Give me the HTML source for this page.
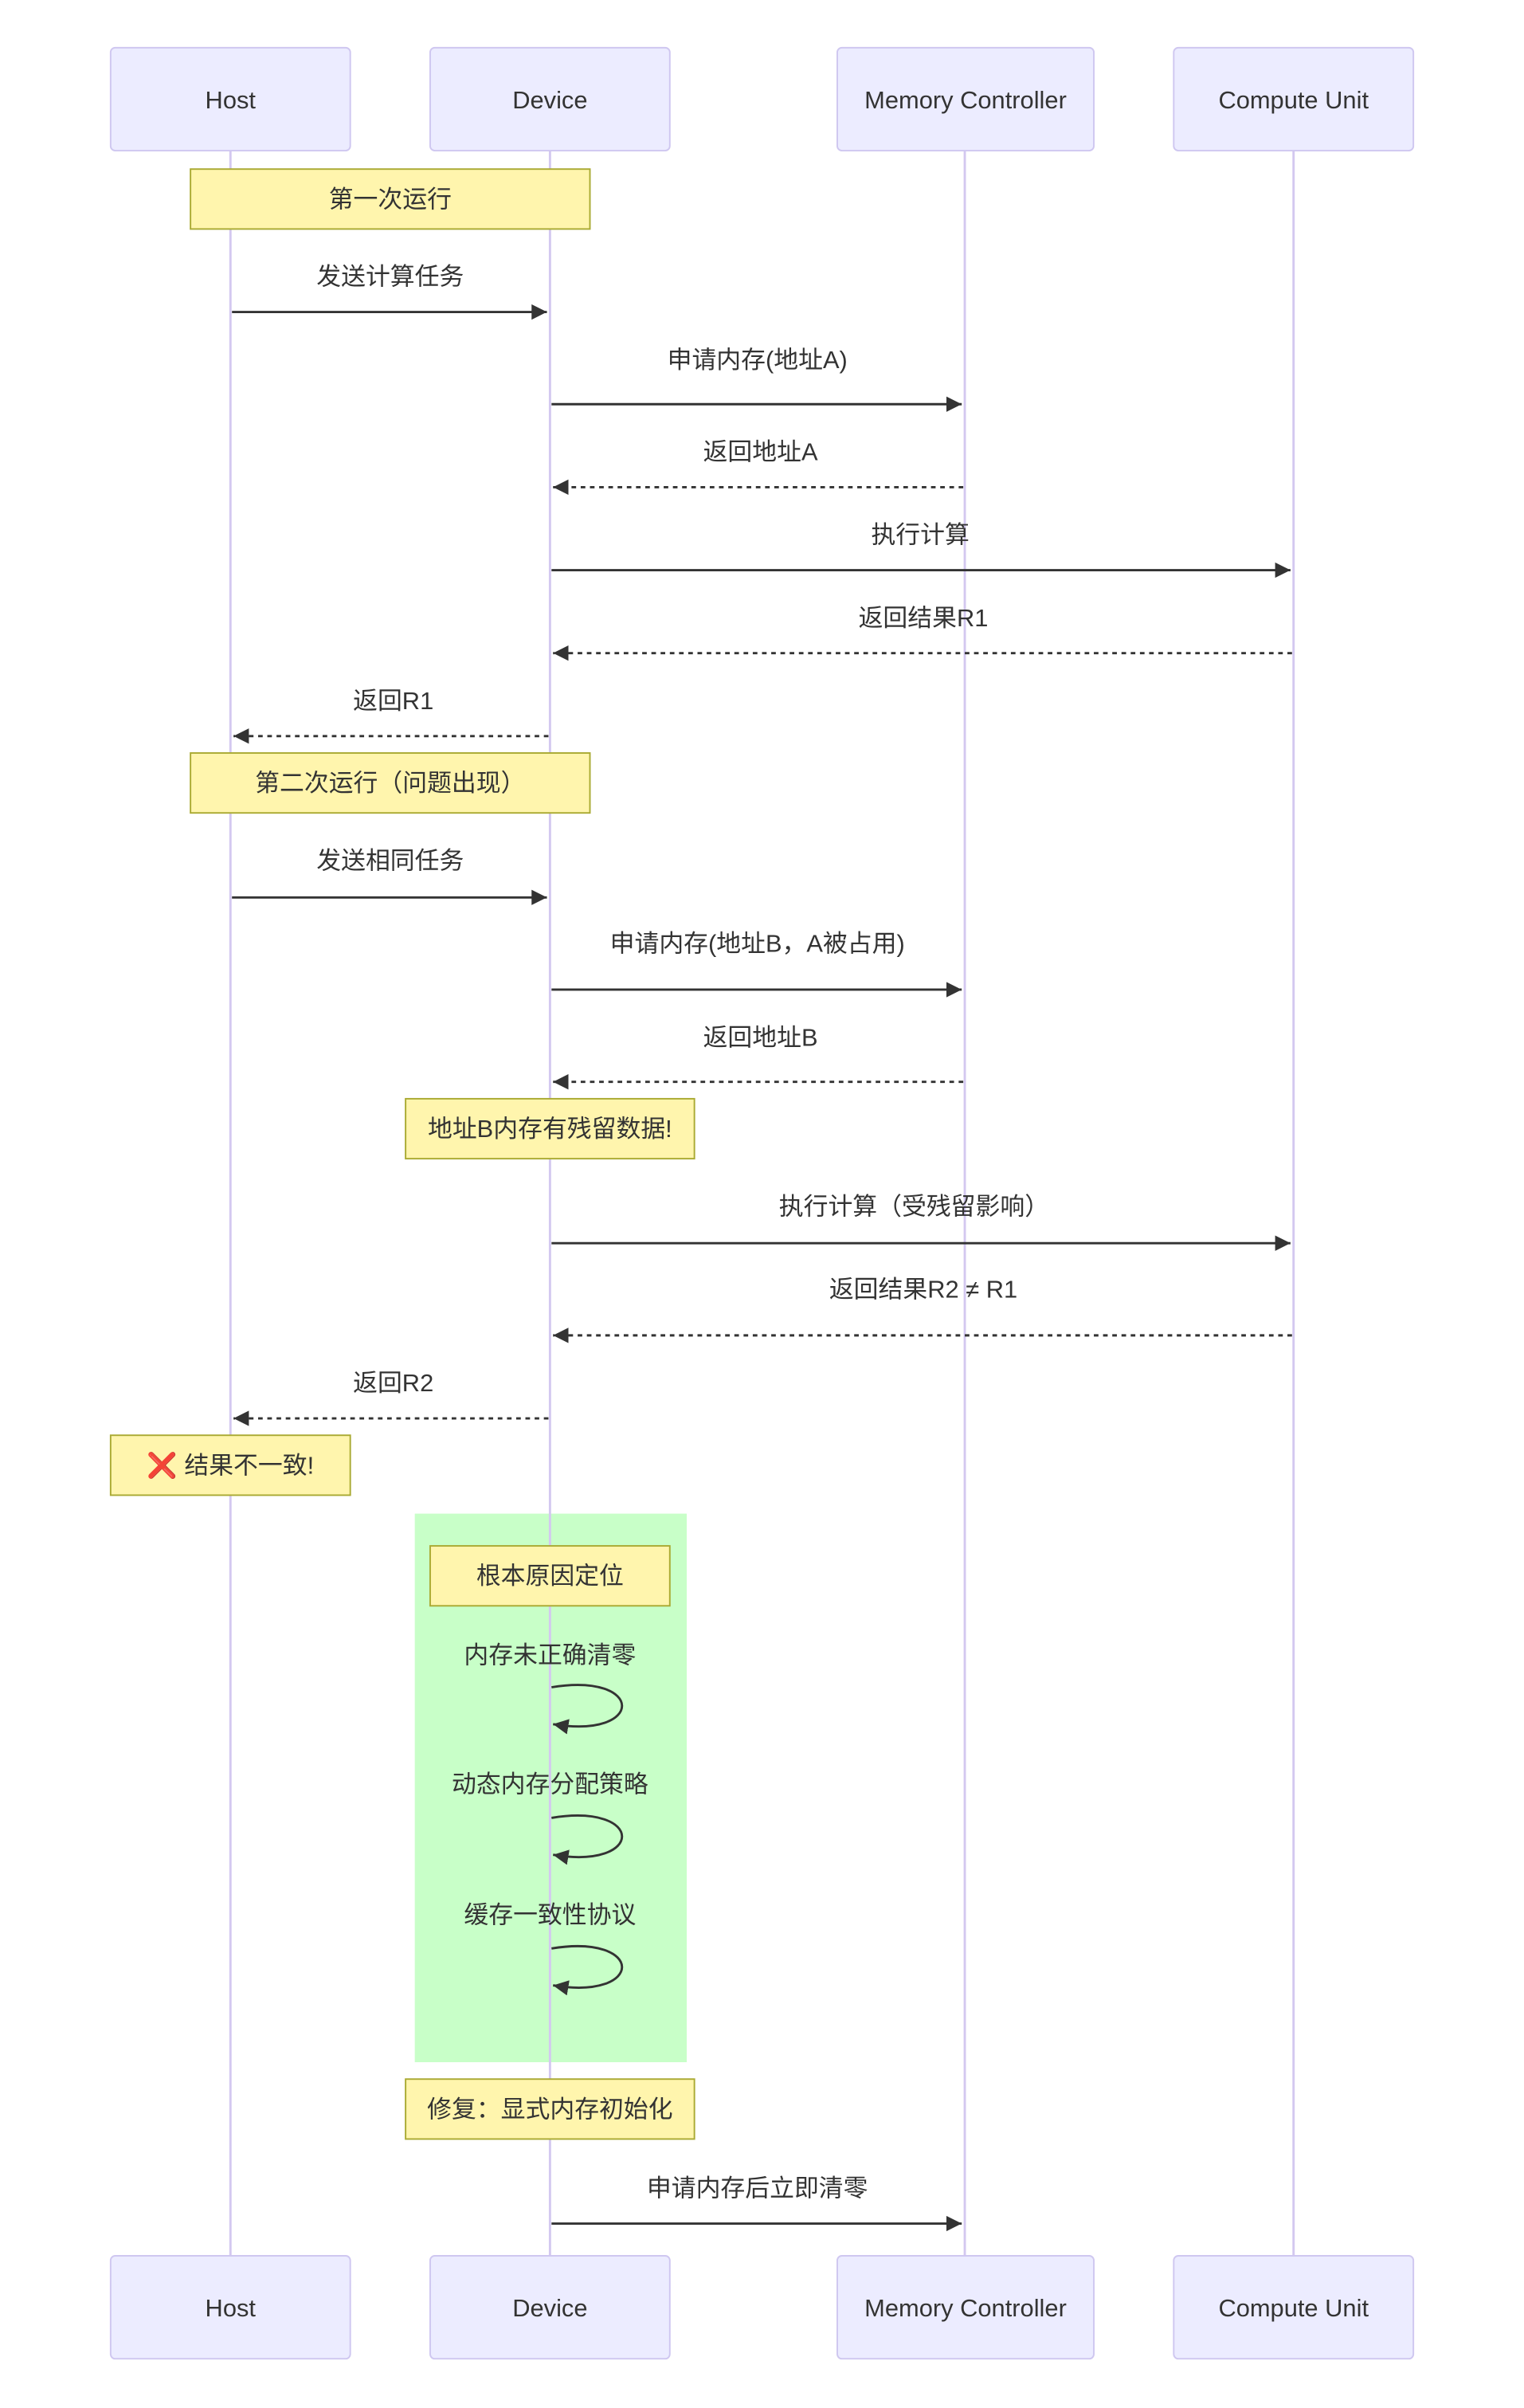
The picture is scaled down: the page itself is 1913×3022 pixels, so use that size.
<!DOCTYPE html>
<html><head><meta charset="utf-8"><style>
html,body{margin:0;padding:0;background:#fff;}
svg{display:block;}
text{font-family:"Liberation Sans","Noto Sans CJK SC",sans-serif;fill:#333;font-size:16px;}
</style></head><body>
<svg width="1913" height="3022" viewBox="0 0 992 1567" xmlns="http://www.w3.org/2000/svg">
<defs>
<marker id="ah" markerWidth="12" markerHeight="12" refX="10" refY="5" orient="auto" markerUnits="userSpaceOnUse"><path d="M0,0 L10,5 L0,10 z" fill="#333"/></marker>
</defs>
<rect width="992" height="1567" fill="#fff"/>
<!-- green rect -->
<rect x="270" y="985" width="177" height="357" fill="rgb(200,255,200)"/>
<!-- lifelines -->
<g stroke="#d3c8f0" stroke-width="1.5">
<line x1="150" y1="98" x2="150" y2="1468"/>
<line x1="358" y1="98" x2="358" y2="1468"/>
<line x1="628" y1="98" x2="628" y2="1468"/>
<line x1="842" y1="98" x2="842" y2="1468"/>
</g>
<!-- actors -->
<g fill="#ececff" stroke="#cfc7f0" stroke-width="1">
<rect x="72" y="31" width="156" height="67" rx="3"/>
<rect x="280" y="31" width="156" height="67" rx="3"/>
<rect x="545" y="31" width="167" height="67" rx="3"/>
<rect x="764" y="31" width="156" height="67" rx="3"/>
<rect x="72" y="1468" width="156" height="67" rx="3"/>
<rect x="280" y="1468" width="156" height="67" rx="3"/>
<rect x="545" y="1468" width="167" height="67" rx="3"/>
<rect x="764" y="1468" width="156" height="67" rx="3"/>
</g>
<g text-anchor="middle" dominant-baseline="central">
<text x="150" y="65">Host</text><text x="358" y="65">Device</text><text x="628.5" y="65">Memory Controller</text><text x="842" y="65">Compute Unit</text>
<text x="150" y="1502">Host</text><text x="358" y="1502">Device</text><text x="628.5" y="1502">Memory Controller</text><text x="842" y="1502">Compute Unit</text>
</g>
<!-- notes -->
<g fill="#fff5ad" stroke="#aaaa33" stroke-width="1">
<rect x="124" y="110" width="260" height="39"/>
<rect x="124" y="490" width="260" height="39"/>
<rect x="264" y="715" width="188" height="39"/>
<rect x="72" y="934" width="156" height="39"/>
<rect x="280" y="1006" width="156" height="39"/>
<rect x="264" y="1353" width="188" height="39"/>
</g>
<g text-anchor="middle" dominant-baseline="central">
<text x="254" y="129.5">第一次运行</text>
<text x="254" y="509.5">第二次运行（问题出现）</text>
<text x="358" y="734.5">地址B内存有残留数据!</text>
<text x="150" y="953.5">❌ 结果不一致!</text>
<text x="358" y="1025.5">根本原因定位</text>
<text x="358" y="1372.5">修复：显式内存初始化</text>
</g>
<!-- messages -->
<g stroke="#333" stroke-width="1.5" fill="none" marker-end="url(#ah)">
<line x1="151" y1="203" x2="356" y2="203"/>
<line x1="359" y1="263" x2="626" y2="263"/>
<line x1="627" y1="317" x2="360" y2="317" stroke-dasharray="3,3"/>
<line x1="359" y1="371" x2="840" y2="371"/>
<line x1="841" y1="425" x2="360" y2="425" stroke-dasharray="3,3"/>
<line x1="357" y1="479" x2="152" y2="479" stroke-dasharray="3,3"/>
<line x1="151" y1="584" x2="356" y2="584"/>
<line x1="359" y1="644" x2="626" y2="644"/>
<line x1="627" y1="704" x2="360" y2="704" stroke-dasharray="3,3"/>
<line x1="359" y1="809" x2="840" y2="809"/>
<line x1="841" y1="869" x2="360" y2="869" stroke-dasharray="3,3"/>
<line x1="357" y1="923" x2="152" y2="923" stroke-dasharray="3,3"/>
<path d="M359,1098 C420,1088 420,1132 360,1122"/>
<path d="M359,1183 C420,1173 420,1217 360,1207"/>
<path d="M359,1268 C420,1258 420,1302 360,1292"/>
<line x1="359" y1="1447" x2="626" y2="1447"/>
</g>
<g text-anchor="middle" dominant-baseline="central">
<text x="254" y="180">发送计算任务</text>
<text x="493" y="234">申请内存(地址A)</text>
<text x="495" y="294">返回地址A</text>
<text x="599" y="348">执行计算</text>
<text x="601" y="402">返回结果R1</text>
<text x="256" y="456">返回R1</text>
<text x="254" y="560">发送相同任务</text>
<text x="493" y="614">申请内存(地址B，A被占用)</text>
<text x="495" y="675">返回地址B</text>
<text x="595" y="785">执行计算（受残留影响）</text>
<text x="601" y="839">返回结果R2 ≠ R1</text>
<text x="256" y="900">返回R2</text>
<text x="358" y="1077">内存未正确清零</text>
<text x="358" y="1161">动态内存分配策略</text>
<text x="358" y="1246">缓存一致性协议</text>
<text x="493" y="1424">申请内存后立即清零</text>
</g>
</svg>
</body></html>
